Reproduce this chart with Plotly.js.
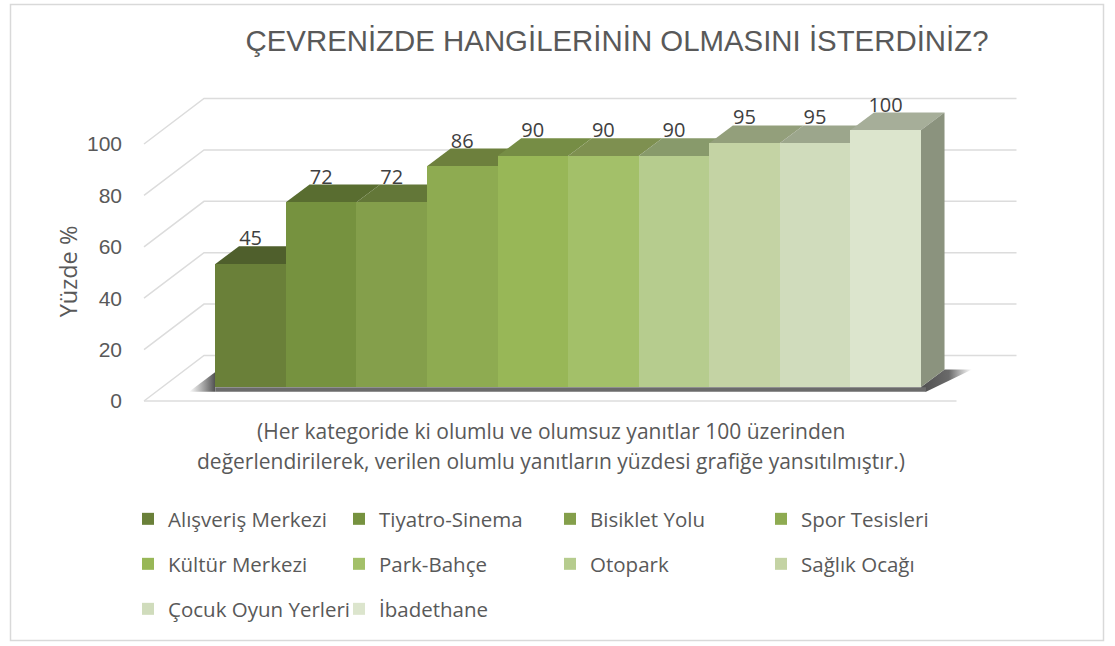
<!DOCTYPE html>
<html><head><meta charset="utf-8">
<script src="https://cdn.plot.ly/plotly-3.0.1.min.js"></script>
<style>html,body{margin:0;padding:0;background:#fff}</style></head>
<body><div id="chart" style="width:1115px;height:646px"></div>
<script>
const categories=["Alışveriş Merkezi","Tiyatro-Sinema","Bisiklet Yolu","Spor Tesisleri","Kültür Merkezi","Park-Bahçe","Otopark","Sağlık Ocağı","Çocuk Oyun Yerleri","İbadethane"];
const barHeights=[48,72,72,86,90,90,90,95,95,100];
const labels=[45,72,72,86,90,90,90,95,95,100];
const yTicks=[0,20,40,60,80,100];
const frontColors=["#6a8039","#76923f","#849f4b","#8eab51","#98b757","#a3c069","#b6cc8e","#c4d3a4","#d0dcbc","#dce5cd"];
const topColors=["#4f5f2c","#596d30","#637738","#6d803d","#768d45","#7e9050","#889a6b","#939f7b","#9ca68c","#a6ae99"];
const sideColor="#8b937e";

// plot geometry
const L=130,R=1030,T=90,B=453,W=1115,H=646;
const xu=70.55,x0px=250.6,yu=2.57,y0px=401;
const ux=p=>(p-x0px)/xu, uy=p=>(y0px-p)/yu;
const xRange=[ux(L),ux(R)],yRange=[uy(B),uy(T)];
const base=uy(387.3), barDx=ux(250.6+23.7), barDy=17.7/yu;
const wallDy=45.5/yu, xf=ux(144), xb=ux(204), xe=ux(1016.5), xfe=ux(956.5);
const gridColor="#dcdcdc";
const poly=(x,y,color)=>({type:"scatter",mode:"lines",x,y,fill:"toself",fillcolor:color,line:{width:0,color},hoverinfo:"skip",showlegend:false,xaxis:"x",yaxis:"y"});
const traces=[];
yTicks.forEach(t=>{
  traces.push({type:"scatter",mode:"lines",x:[xf,xb,xe],y:[t,t+wallDy,t+wallDy],line:{color:gridColor,width:1.5},hoverinfo:"skip",showlegend:false});
});
traces.push({type:"scatter",mode:"lines",x:[xf,xfe],y:[0,0],line:{color:gridColor,width:1.5},hoverinfo:"skip",showlegend:false});
const n=categories.length,first=-0.5,last=n-0.5;
const sh=uy(391.7);
const shL={...poly([ux(189),first,first,ux(189)],[sh,uy(372),sh,sh],"#555"),fillgradient:{type:"horizontal",colorscale:[[0,"rgba(90,90,90,0)"],[1,"rgba(70,70,70,0.95)"]]}};
const shR={...poly([last,last+barDx,ux(972),ux(926),last],[base,base+barDy,base+barDy,sh,base],"#555"),fillgradient:{type:"horizontal",colorscale:[[0,"rgba(70,70,70,0.95)"],[0.55,"rgba(80,80,80,0.85)"],[1,"rgba(90,90,90,0)"]]}};
traces.push(shL,shR);
traces.push(poly([first,ux(926),ux(926),first,first],[base,base,sh,sh,base],"#6b6b6b"));
barHeights.forEach((v,i)=>{
  const t=base+v;
  traces.push(poly([i-.5,i-.5+barDx,i+.5+barDx,i+.5,i-.5],[t,t+barDy,t+barDy,t,t],topColors[i]));
});
const lt=base+barHeights[n-1];
traces.push(poly([last,last+barDx,last+barDx,last,last],[lt,lt+barDy,base+barDy,base,lt],sideColor));
const legendOf=i=>i<4?"legend":i<8?"legend2":"legend3";
categories.forEach((c,i)=>{
  traces.push({type:"bar",name:c,x:[i],y:[barHeights[i]],base:[base],width:[1],marker:{color:frontColors[i],line:{width:0}},xaxis:"x2",yaxis:"y2",legend:legendOf(i),hoverinfo:"name+y"});
});
traces.push({type:"scatter",mode:"text",x:categories.map((_,i)=>i),y:barHeights.map(v=>v+base+barDy-4/yu),text:labels.map(String),textposition:"top center",textfont:{family:"Open Sans",size:20,color:"#404040"},cliponaxis:false,hoverinfo:"skip",showlegend:false,xaxis:"x2",yaxis:"y2"});

const legendCommon=(row)=>({orientation:"h",xref:"container",yref:"container",x:128/W,y:1-row/H,xanchor:"left",yanchor:"middle",entrywidth:166,entrywidthmode:"pixels",bgcolor:"rgba(0,0,0,0)",borderwidth:0,font:{family:"Open Sans",size:20.5,color:"#595959"},itemclick:false,itemdoubleclick:false,traceorder:"normal"});
const fx=p=>(p-L)/(R-L), fy=p=>(B-p)/(B-T);
const noteFont={family:"Open Sans",size:21,color:"#595959"};
const layout={
  width:W,height:H,paper_bgcolor:"#fff",plot_bgcolor:"rgba(0,0,0,0)",
  margin:{l:L,r:W-R,t:T,b:H-B,autoexpand:false},
  title:{text:"ÇEVRENİZDE HANGİLERİNİN OLMASINI İSTERDİNİZ?",x:617/W,xanchor:"center",y:1-41/H,yanchor:"middle",font:{family:"Liberation Sans",size:29.4,color:"#595959"}},
  barmode:"overlay",bargap:0,
  xaxis:{range:xRange,visible:false,fixedrange:true},
  yaxis:{range:yRange,tickvals:yTicks,ticktext:yTicks.map(String),ticks:"",showgrid:false,zeroline:false,showline:false,fixedrange:true,
    tickfont:{family:"Liberation Sans",size:21,color:"#595959"},ticklabelstandoff:7,
    title:{text:"Yüzde %",standoff:2,font:{family:"Open Sans",size:23.5,color:"#595959"}}},
  xaxis2:{range:xRange,visible:false,overlaying:"x",fixedrange:true},
  yaxis2:{range:yRange,visible:false,overlaying:"y",fixedrange:true},
  legend:legendCommon(519),legend2:legendCommon(564),legend3:legendCommon(609),
  annotations:[
    {text:"(Her kategoride ki olumlu ve olumsuz yanıtlar 100 üzerinden",xref:"paper",yref:"paper",x:fx(551),y:fy(431),xanchor:"center",yanchor:"middle",showarrow:false,font:noteFont},
    {text:"değerlendirilerek, verilen olumlu yanıtların yüzdesi grafiğe yansıtılmıştır.)",xref:"paper",yref:"paper",x:fx(551),y:fy(461),xanchor:"center",yanchor:"middle",showarrow:false,font:noteFont}
  ],
  shapes:[{type:"rect",xref:"paper",yref:"paper",x0:fx(10.5),x1:fx(1103.5),y0:fy(4.5),y1:fy(640.5),line:{color:"#d9d9d9",width:1.5},fillcolor:"rgba(0,0,0,0)",layer:"below"}]
};
Plotly.newPlot("chart",traces,layout,{displayModeBar:false,responsive:false});
</script></body></html>
